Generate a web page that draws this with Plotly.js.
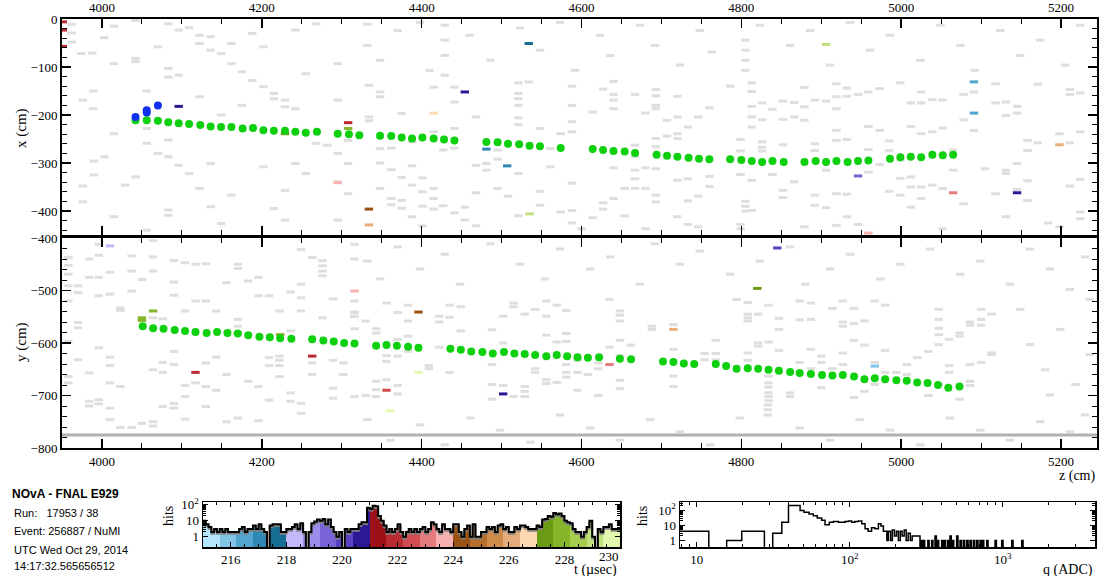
<!DOCTYPE html>
<html><head><meta charset="utf-8">
<script src="https://cdn.plot.ly/plotly-3.0.1.min.js"></script>
<style>html,body{margin:0;padding:0;background:#fff}#plot{width:1101px;height:576px}</style>
</head><body><div id="plot"></div>
<script>
// ---------------- DATA ----------------
// X view (top): reconstructed hits, z (cm) and x (cm)
const trkTopZ = [4042,4056,4070,4083,4096,4109,4123,4136,4149,4162,4176,4189,4202,4215,4229,4242,4255,4269,4295,4309,4322,
  4348,4362,4375,4388,4401,4415,4428,4441,4481,4495,4508,4522,4535,4548,4574,4614,4627,4640,4654,4667,4694,4707,4720,4734,4747,4760,
  4786,4800,4813,4826,4839,4853,4879,4893,4906,4919,4933,4946,4959,4986,4999,5012,5025,5039,5052,5065];
const trkTopX = [-211,-211,-212,-215,-217,-219,-221,-224,-225,-225,-228,-227,-232,-233,-233,-235,-237,-235,-239,-240,-242,
  -243,-244,-247,-249,-247,-249,-251,-253,-256,-257,-260,-261,-264,-265,-269,-271,-273,-275,-276,-279,-283,-285,-287,-289,-291,-292,
  -292,-294,-296,-298,-296,-298,-298,-296,-298,-296,-298,-296,-295,-291,-288,-287,-288,-283,-284,-283];
const vtxTopZ = [4042,4056,4056,4070];
const vtxTopX = [-204,-190,-195,-180];
// Y view (bottom)
const trkBotZ = [4051,4064,4077,4091,4104,4117,4131,4144,4157,4170,4183,4197,4210,4223,4237,4263,4277,4290,4303,4316,
  4343,4356,4369,4383,4396,4436,4449,4462,4476,4489,4503,4516,4529,4542,4556,4569,4582,4595,4608,4622,4648,4662,4702,4715,4728,4741,4768,
  4781,4794,4808,4821,4834,4847,4861,4873,4887,4901,4914,4927,4941,4954,4967,4980,4994,5007,5020,5033,5046,5059,5073];
const trkBotY = [-568,-572,-573,-575,-577,-579,-581,-579,-581,-582,-585,-588,-589,-591,-592,-593,-595,-597,-600,-601,
  -605,-604,-605,-607,-609,-611,-613,-616,-617,-620,-617,-620,-621,-623,-625,-623,-625,-627,-628,-627,-630,-631,-635,-636,-639,-640,-640,
  -644,-649,-648,-649,-651,-653,-655,-657,-659,-661,-662,-661,-664,-669,-667,-669,-671,-672,-675,-676,-680,-685,-683];
// time-coloured isolated hits [z, coord, t(usec)]
const timedTop = [[3951,-6,221.9],[3951,-23,221.9],[3951,-57,221.9],[4096,-182,220.7],[4308,-216,221.9],[4308,-228,227.9],
  [4295,-341,223.7],[4229,-239,227.3],[4454,-152,220.7],[4415,-196,226.7],[4481,-271,217.1],[4507,-306,217.1],[4535,-406,229.1],
  [4334,-396,224.3],[4334,-429,226.1],[5091,-131,216.5],[5091,-196,216.5],[4946,-327,219.5],[5065,-362,223.1],[5145,-362,220.7],
  [5198,-262,226.1],[4959,-446,223.7],[4534,-51,217.7],[4906,-53,229.1]];
const timedBot = [[4010,-415,218.3],[4050,-552,227.9],[4050,-557,227.9],[4064,-539,227.9],[4170,-581,227.9],[4223,-584,227.9],
  [4117,-656,221.9],[4263,-625,221.9],[4316,-501,223.7],[4396,-541,224.3],[4396,-656,229.7],[4356,-690,222.5],[4502,-697,220.7],
  [4635,-641,223.1],[4715,-574,226.1],[4967,-644,215.9],[4845,-419,220.1],[4820,-496,227.3],[4360,-729,229.7]];
// out-of-time (noise) hits [z, coord]
const noiseTop = [[3962,-11],[3962,-29],[3962,-48],[3974,-72],[3988,-71],[3976,-169],[3989,-150],[3989,-187],[3976,-348],[3976,-381],
  [3990,-296],[3990,-325],[4003,-39],[4003,-287],[4015,-15],[4015,-93],[4015,-239],[4015,-412],[4029,-346],[4042,-3],[4042,-82],[4042,-89],
  [4042,-329],[4056,-150],[4056,-228],[4056,-259],[4056,-440],[4070,-58],[4070,-280],[4083,-10],[4083,-103],[4083,-121],[4083,-252],
  [4083,-287],[4083,-398],[4083,-409],[4096,-23],[4096,-117],[4096,-305],[4109,-18],[4109,-322],[4122,-34],[4122,-51],[4122,-162],
  [4122,-353],[4136,-37],[4136,-65],[4136,-301],[4136,-391],[4149,-72],[4149,-200],[4149,-426],[4162,-51],[4162,-93],[4162,-367],
  [4175,-110],[4175,-180],[4188,-30],[4188,-128],[4202,-58],[4202,-141],[4202,-308],[4215,-155],[4215,-166],[4215,-395],[4229,-169],
  [4229,-183],[4229,-357],[4229,-419],[4242,-23],[4242,-187],[4242,-301],[4255,-114],[4255,-322],[4268,-10],[4268,-259],[4282,-263],
  [4295,-93],[4295,-169],[4295,-280],[4295,-339],[4295,-419],[4308,-253],[4308,-301],[4308,-364],
  [4334,-138],[4348,-152],[4348,-162],[4334,-204],[4334,-212],[4348,-270],[4348,-300],[4348,-353],[4362,-269],[4362,-314],[4362,-374],
  [4362,-387],[4375,-197],[4375,-330],[4375,-378],[4375,-394],[4388,-256],[4388,-306],[4388,-346],[4388,-412],[4401,-331],[4401,-360],
  [4401,-390],[4401,-431],[4415,-142],[4415,-235],[4415,-353],[4415,-374],[4415,-396],[4427,-273],[4427,-389],[4441,-142],[4441,-173],
  [4441,-228],[4441,-269],[4441,-404],[4454,-392],[4454,-419],[4468,-204],[4468,-305],[4468,-362],[4468,-431],[4481,-301],[4481,-315],
  [4495,-273],[4495,-292],[4495,-353],[4508,-369],[4521,-133],[4521,-155],[4521,-166],[4521,-180],[4521,-206],[4521,-220],[4521,-322],
  [4521,-410],[4534,-131],[4548,-228],[4548,-359],[4548,-388],[4561,-270],[4561,-308],[4574,-239],[4574,-402],[4588,-140],[4588,-180],
  [4588,-214],[4588,-235],[4588,-342],[4588,-399],[4588,-425],[4600,-437],[4614,-194],[4614,-414],[4627,-146],[4627,-383],[4627,-396],
  [4640,-130],[4640,-157],[4640,-169],[4640,-187],[4640,-310],[4640,-374],[4654,-353],[4654,-410],[4667,-157],[4667,-263],[4667,-287],
  [4667,-315],[4667,-333],[4667,-353],[4680,-196],[4680,-310],[4680,-353],[4680,-437],[4693,-147],[4693,-160],[4693,-180],[4693,-187],
  [4693,-249],[4693,-266],[4693,-312],[4693,-367],[4693,-381],[4707,-211],[4707,-244],[4720,-161],[4720,-204],[4720,-239],[4720,-249],
  [4720,-336],[4720,-412],[4733,-225],[4733,-333],[4733,-379],[4733,-428],[4746,-204],[4746,-369],[4746,-433],[4760,-185],[4760,-328],
  [4760,-349],
  [4786,-140],[4786,-291],[4799,-251],[4799,-275],[4799,-324],[4799,-428],[4799,-437],[4813,-133],[4813,-151],[4813,-182],[4813,-204],
  [4813,-225],[4813,-336],[4813,-399],[4826,-175],[4826,-210],[4826,-256],[4826,-267],[4826,-275],[4839,-188],[4839,-324],[4852,-171],
  [4852,-209],[4852,-262],[4852,-357],[4852,-372],[4866,-174],[4866,-204],[4866,-339],[4879,-143],[4879,-183],[4879,-211],[4879,-433],
  [4892,-169],[4892,-260],[4892,-274],[4892,-367],[4892,-388],[4906,-171],[4906,-315],[4906,-393],[4919,-135],[4919,-162],[4919,-187],
  [4919,-232],[4919,-253],[4919,-364],[4919,-430],[4932,-144],[4932,-161],[4932,-251],[4932,-365],[4932,-412],[4946,-157],[4946,-428],
  [4959,-152],[4959,-224],[4959,-272],[4959,-319],[4973,-145],[4973,-232],[4973,-303],[4985,-254],[4985,-274],[4985,-359],[4999,-133],
  [4999,-294],[4999,-332],[4999,-367],[5012,-175],[5012,-224],[5012,-329],[5012,-350],[5012,-392],[5025,-152],[5025,-175],[5025,-239],
  [5025,-350],[5025,-374],[5039,-168],[5039,-235],[5039,-346],[5052,-169],[5052,-227],[5052,-353],[5052,-437],[5065,-273],[5065,-315],
  [5078,-157],[5078,-210],[5078,-385],[5091,-152],[5091,-232],[5105,-312],[5118,-135],[5118,-175],[5118,-364],[5131,-173],[5131,-201],
  [5131,-315],[5131,-322],[5131,-412],[5145,-182],[5145,-196],[5145,-301],[5145,-355],[5158,-253],[5158,-274],[5158,-337],[5158,-378],
  [5171,-136],[5171,-258],[5184,-425],[5198,-239],[5198,-433],[5211,-147],[5211,-157],[5211,-258],[5211,-348],[5224,-154],[5224,-235],
  [5224,-334],[5224,-402],[5224,-416],
  [4332,-11],[4332,-55],[4348,-86],[4370,-24],[4398,-7],[4410,-107],[4429,-13],[4429,-44],[4429,-76],[4429,-117],[4460,-34],[4486,-86],
  [4523,-19],[4548,-65],[4573,-7],[4592,-107],[4623,-34],[4636,-76],[4673,-13],[4692,-55],[4723,-96],[4748,-24],[4763,-69],[4805,-44],
  [4805,-65],[4805,-86],[4805,-107],[4823,-13],[4861,-55],[4886,-24],[4911,-96],[4936,-7],[4961,-65],[4986,-34],[5024,-86],[5049,-13],
  [5074,-55],[5092,-107],[5124,-24],[5149,-76],[5174,-44],[5205,-96],[5224,-13],[4805,-380],[4805,-390],[4805,-400]];
const noiseBot = [[3958,-437],[3958,-452],[3958,-469],[3958,-491],[3958,-520],[3958,-597],[3958,-664],[3958,-676],[3970,-491],[3970,-504],
  [3970,-561],[3970,-571],[3970,-632],[3984,-440],[3984,-475],[3984,-657],[3984,-711],[3984,-720],[3996,-412],[3996,-433],[3996,-475],
  [3996,-510],[3996,-609],[3996,-708],[3996,-716],[4010,-465],[4010,-507],[4010,-643],[4010,-627],[4010,-676],[4010,-724],[4010,-746],
  [4023,-533],[4023,-538],[4023,-683],[4023,-761],[4037,-434],[4037,-463],[4037,-501],[4037,-761],[4050,-479],[4050,-753],[4064,-405],
  [4064,-436],[4064,-463],[4064,-552],[4064,-651],[4064,-750],[4064,-758],[4076,-554],[4076,-637],[4076,-656],[4076,-721],[4090,-443],
  [4090,-484],[4090,-509],[4090,-616],[4090,-641],[4090,-715],[4090,-724],[4104,-447],[4104,-539],[4104,-681],[4104,-702],[4104,-745],
  [4117,-450],[4117,-520],[4117,-676],[4130,-449],[4130,-520],[4130,-638],[4130,-683],[4130,-721],[4143,-539],[4143,-627],[4143,-690],
  [4156,-485],[4156,-660],[4156,-750],[4170,-450],[4170,-458],[4170,-555],[4170,-568],[4170,-743],[4183,-482],[4183,-673],[4196,-475],
  [4196,-510],[4196,-683],[4196,-748],[4209,-510],[4209,-628],[4209,-643],[4209,-709],[4222,-539],[4222,-625],[4222,-633],[4222,-643],
  [4222,-664],[4236,-503],[4236,-577],[4236,-695],[4236,-711],[4249,-422],[4249,-488],[4249,-514],[4249,-539],[4249,-715],[4249,-734],
  [4263,-437],[4263,-638],[4263,-660],[4276,-443],[4276,-453],[4276,-463],[4276,-472],[4276,-552],[4289,-516],[4289,-633],[4289,-686],
  [4289,-705],[4302,-638],[4302,-660],[4316,-412],[4316,-440],[4316,-542],[4316,-550],[4316,-702],
  [4316,-520],[4316,-541],[4316,-549],[4316,-573],[4330,-558],[4330,-700],[4343,-573],[4343,-581],[4343,-673],[4343,-689],[4343,-702],
  [4356,-524],[4356,-624],[4356,-635],[4356,-670],[4370,-542],[4370,-593],[4370,-625],[4370,-681],[4370,-697],[4383,-528],[4383,-558],
  [4383,-587],[4383,-616],[4409,-643],[4409,-649],[4422,-549],[4422,-560],[4422,-608],[4435,-528],[4435,-551],[4435,-656],[4449,-531],
  [4449,-577],[4488,-575],[4488,-641],[4488,-679],[4488,-707],[4502,-549],[4502,-600],[4502,-681],[4515,-524],[4515,-531],[4515,-702],
  [4529,-545],[4529,-683],[4529,-692],[4529,-702],[4542,-536],[4542,-649],[4542,-656],[4556,-520],[4556,-549],[4556,-585],[4556,-670],
  [4556,-677],[4569,-528],[4569,-598],[4569,-675],[4581,-538],[4581,-582],[4581,-597],[4581,-641],[4581,-656],[4581,-665],[4595,-633],
  [4595,-656],[4595,-690],[4608,-660],[4621,-638],[4621,-649],[4621,-700],[4635,-517],[4635,-608],[4648,-539],[4648,-547],[4648,-558],
  [4648,-595],[4648,-624],[4648,-671],[4648,-687],[4662,-604],[4688,-568],[4688,-574],[4715,-565],[4715,-612],[4715,-663],[4715,-683],
  [4754,-620],[4754,-632],[4768,-595],[4768,-620],[4768,-632],
  [4794,-517],[4808,-523],[4808,-545],[4808,-552],[4808,-558],[4808,-619],[4808,-633],[4821,-545],[4821,-600],[4821,-606],[4834,-528],
  [4834,-598],[4834,-663],[4834,-676],[4834,-684],[4834,-695],[4834,-702],[4834,-710],[4847,-553],[4847,-574],[4847,-614],[4861,-695],
  [4861,-702],[4873,-520],[4873,-556],[4873,-637],[4887,-524],[4887,-555],[4887,-612],[4887,-649],[4900,-625],[4900,-637],[4900,-685],
  [4914,-534],[4914,-649],[4927,-520],[4927,-560],[4927,-568],[4927,-619],[4927,-641],[4941,-534],[4941,-563],[4941,-595],[4941,-704],
  [4954,-558],[4954,-604],[4954,-692],[4967,-520],[4967,-637],[4967,-679],[4980,-528],[4980,-614],[4980,-656],[4994,-656],[5007,-641],
  [5007,-660],[5020,-628],[5034,-616],[5034,-700],[5047,-536],[5047,-555],[5047,-572],[5047,-584],[5047,-603],[5047,-679],[5060,-593],
  [5060,-643],[5060,-656],[5073,-581],[5073,-587],[5073,-707],[5086,-560],[5086,-566],[5086,-641],[5086,-673],[5086,-681],[5100,-536],
  [5100,-555],[5100,-566],[5100,-637],[5113,-545],[5113,-619],[5113,-622],
  [4332,-444],[4348,-478],[4370,-417],[4398,-459],[4429,-431],[4448,-488],[4486,-411],[4523,-450],[4554,-478],[4573,-421],[4611,-459],
  [4636,-436],[4673,-488],[4692,-411],[4723,-450],[4748,-425],[4786,-469],[4823,-444],[4861,-417],[4880,-488],[4911,-459],[4936,-431],
  [4974,-478],[4999,-450],[5036,-421],[5074,-469],[5099,-444],[5136,-488],[5161,-421],[5186,-459],[5211,-498],[5230,-436],
  [4332,-746],[4361,-785],[4398,-756],[4429,-794],[4461,-743],[4498,-766],[4536,-789],[4573,-737],[4611,-762],[4648,-785],[4686,-746],
  [4723,-769],[4761,-794],[4798,-743],[4833,-718],[4833,-727],[4833,-737],[4873,-762],[4911,-785],[4948,-746],[4986,-766],
  [5024,-794],[5061,-743],[5099,-766],[5136,-785],[5174,-750],[5211,-769],[5230,-737],
  [5149,-536],[5161,-603],[5180,-651],[5199,-574],[5218,-679],[5236,-517],[5236,-622],[5186,-699]];
// detector edge line (y view)
const edgeY = -775;
// time histogram: 0.1 usec bins from 215 to 230
const tStart = 215, tBin = 0.1;
const tCounts = [10,6,4,2,3,2,3,2,3,2, 2,2,2,3,4,2,3,3,5,3, 6,3,2,0,5,6,6,6,2,2, 3,3,4,6,3,7,2,0,2,7,
  9,12,10,13,6,12,4,2,1,2, 0,3,2,3,3,3,6,8,8,65, 55,85,80,20,10,5,2,3,2,3, 6,2,1,2,3,2,3,2,3,4,
  2,3,8,6,3,2,6,3,3,2, 6,6,2,1,3,5,1,6,1,1, 2,2,4,3,4,2,5,6,3,4, 2,2,4,3,5,5,4,3,3,3,
  5,4,12,13,20,18,30,25,28,20, 10,8,7,3,2,2,1,2,4,10, 1,0,3,2,4,4,6,3,3,3];
const tBandWidth = 0.6;
const tTickLabels = [216,218,220,222,224,226,228,230];
const tPalette = ['#b3e5fc','#81c4e6','#52a5cf','#2f87b3','#156d94',
  '#c4b8fa','#9c8ceb','#7a63d6','#5b40c2','#2a1896',
  '#9c1016','#b92b31','#d24c52','#e57b7c','#f8b1b1',
  '#9a5215','#b66f2c','#ce8b4a','#e5ad7c','#fdd8b2',
  '#6a9b12','#87b52a','#a5cd4e','#c1e17d','#e2f9ad'];
// charge histogram (ADC)
const qEdges = [7.78,12.0,15.7,19.7,27.7,31.4,36.0,39.8,47.4,50.3,54.2,57.8,61.4,65.6,69.0,73.6,78.2,84.3,93.2,98,103,108,114,120,126,
  132,139,146,154,160,166,175,179,185,190,196,202,208,214,220,227,234,241,249,256,260,288];
const qCounts = [4,0,1,4,0,3,16,215,100,74,57,44,31,22,11,16,18,16,18,20,16,18,20,13,6,4,7,6,13,9,4,1,4,1,5,2,4,1,4,2,5,1,3,1,2,2];
const qSpikeAt = [291,303,324,343,361,374,399,413,435,452,469,500,526,553,582,611,643,676,711,737,786,891,985,1145,1331];
const qSpikeN  = [1,1,1,1,2,1,1,1,1,2,1,2,1,1,1,1,1,1,1,1,1,1,1,1,1];
const qSpikeRel = 1.02, qMax = 4000;

// ---------------- BUILD ----------------
const W = 1101, H = 576;
const PX = p => p / W, PY = p => 1 - p / H;
const serif = 'Liberation Serif, Times New Roman, serif';
const sans = 'Liberation Sans, Arial, sans-serif';
const bandColor = t => tPalette[Math.max(0, Math.min(tPalette.length - 1, Math.floor((t - tStart) / tBandWidth + 1e-9)))];

const traces = [];
const dash = (pts, xa, ya, colorFn, size, w) => ({
  type: 'scatter', mode: 'markers', xaxis: xa, yaxis: ya, hoverinfo: 'skip',
  x: pts.map(p => p[0]), y: pts.map(p => p[1]),
  marker: {symbol: 'line-ew', size: size, color: 'rgba(0,0,0,0)', line: {width: w, color: colorFn ? pts.map(colorFn) : '#dedede'}}
});
traces.push(dash(noiseTop, 'x', 'y', null, 6, 3));
traces.push(dash(noiseBot, 'x2', 'y2', null, 6, 3));
traces.push(dash(timedTop, 'x', 'y', p => bandColor(p[2]), 6, 3));
traces.push(dash(timedBot, 'x2', 'y2', p => bandColor(p[2]), 6, 3));
const dots = (xs, ys, xa, ya, c) => ({type: 'scatter', mode: 'markers', xaxis: xa, yaxis: ya, x: xs, y: ys, hoverinfo: 'skip',
  marker: {symbol: 'circle', size: 8, color: c, line: {width: 0}}});
traces.push(dots(trkTopZ, trkTopX, 'x', 'y', '#0fd00f'));
traces.push(dots(vtxTopZ, vtxTopX, 'x', 'y', '#1030f0'));
traces.push(dots(trkBotZ, trkBotY, 'x2', 'y2', '#0fd00f'));

// time histogram bars + outline
const tCent = tCounts.map((c, i) => tStart + (i + 0.5) * tBin);
traces.push({type: 'bar', xaxis: 'x3', yaxis: 'y3', x: tCent, y: tCounts.map(c => c > 0 ? c : null), width: tBin * 1.02,
  marker: {color: tCent.map(bandColor), line: {width: 0}}, hoverinfo: 'skip'});
const tEdgeX = tCounts.map((c, i) => tStart + i * tBin).concat([tStart + tCounts.length * tBin]);
const tFloor = 0.05;
const tStepY = tCounts.concat([tCounts[tCounts.length - 1]]).map(c => c > 0 ? c : tFloor);
traces.push({type: 'scatter', mode: 'lines', xaxis: 'x3', yaxis: 'y3', x: tEdgeX, y: tStepY.map(v => v * 0.78),
  line: {shape: 'hv', color: '#808080', width: 2}, hoverinfo: 'skip'});
traces.push({type: 'scatter', mode: 'lines', xaxis: 'x3', yaxis: 'y3', x: tEdgeX, y: tStepY,
  line: {shape: 'hv', color: '#000', width: 2}, hoverinfo: 'skip'});

// charge histogram outline
const qx = qEdges.slice(), qy = qCounts.slice();
qSpikeAt.forEach((s, i) => { qy.push(0); qx.push(s); qy.push(qSpikeN[i]); qx.push(s * qSpikeRel); });
qy.push(0); qx.push(qMax);
const qFloor = 0.05;
const qStepY = qy.concat([0]).map(c => c > 0 ? c : qFloor);
traces.push({type: 'scatter', mode: 'lines', xaxis: 'x4', yaxis: 'y4', x: qx, y: qStepY,
  line: {shape: 'hv', color: '#000', width: 1.5}, hoverinfo: 'skip'});

// ---------------- LAYOUT ----------------
const tickF = {family: serif, size: 13, color: '#000'};
const frame = {showline: true, linecolor: '#000', mirror: 'allticks', ticks: 'inside', tickcolor: '#000',
  showgrid: false, zeroline: false, fixedrange: true};
const xMain = {range: [3950, 5245], tick0: 0, dtick: 200, ticklen: 9, tickwidth: 1.5, linewidth: 2,
  minor: {ticks: 'inside', dtick: 50, ticklen: 5, tickcolor: '#000', tickwidth: 1}, tickfont: tickF};
const yMain = {dtick: 100, tick0: 0, ticklen: 9, tickwidth: 1.5, linewidth: 2,
  minor: {ticks: 'inside', dtick: 20, ticklen: 5, tickcolor: '#000', tickwidth: 1}, tickfont: tickF};
const dom = {xMain: [PX(62), PX(1097)], yTop: [PY(235), PY(19)], yBot: [PY(448), PY(238)],
  x3: [PX(203), PX(620)], x4: [PX(680), PX(1095)], yH: [PY(547), PY(502)]};
const logMinor = [];
[1, 10, 100, 1000].forEach(d => { for (let k = 2; k <= 9; k++) logMinor.push(k * d); });
const tRange = [215, 230];
const layout = {
  width: W, height: H, margin: {l: 0, r: 0, t: 0, b: 0}, paper_bgcolor: '#fff', plot_bgcolor: '#fff', showlegend: false,
  bargap: 0,
  xaxis: Object.assign({}, frame, xMain, {domain: dom.xMain, anchor: 'y', side: 'top'}),
  yaxis: Object.assign({}, frame, yMain, {domain: dom.yTop, anchor: 'x', range: [-450, 0]}),
  xaxis2: Object.assign({}, frame, xMain, {domain: dom.xMain, anchor: 'y2', side: 'bottom'}),
  yaxis2: Object.assign({}, frame, yMain, {domain: dom.yBot, anchor: 'x2', range: [-800, -400]}),
  xaxis3: Object.assign({}, frame, {domain: dom.x3, anchor: 'y3', range: tRange, ticklen: 5,
    tickvals: tTickLabels, ticktext: tTickLabels.map(v => v < tRange[1] ? String(v) : ''),
    linewidth: 1.5, tickfont: tickF, minor: {ticks: 'inside', dtick: 0.5, ticklen: 3, tickcolor: '#000'}}),
  yaxis3: Object.assign({}, frame, {domain: dom.yH, anchor: 'x3', type: 'log', range: [-0.64, 2.17], ticklen: 5, linewidth: 1.5,
    tickvals: [1, 10, 100], ticktext: ['1', '10', '10<sup>2</sup>'], tickfont: tickF,
    minor: {ticks: 'inside', tickvals: logMinor, ticklen: 3, tickcolor: '#000'}}),
  xaxis4: Object.assign({}, frame, {domain: dom.x4, anchor: 'y4', type: 'log', range: [0.891, 3.603], ticklen: 5, linewidth: 1.5,
    tickvals: [10, 100, 1000], ticktext: ['10', '10<sup>2</sup>', '10<sup>3</sup>'], tickfont: tickF,
    minor: {ticks: 'inside', tickvals: logMinor, ticklen: 3, tickcolor: '#000'}}),
  yaxis4: Object.assign({}, frame, {domain: dom.yH, anchor: 'x4', type: 'log', range: [-0.44, 2.56], ticklen: 5, linewidth: 1.5,
    tickvals: [1, 10, 100], ticktext: ['1', '10', '10<sup>2</sup>'], tickfont: tickF,
    minor: {ticks: 'inside', tickvals: logMinor, ticklen: 3, tickcolor: '#000'}}),
  shapes: [{type: 'line', xref: 'x2 domain', yref: 'y2', x0: 0, x1: 1, y0: edgeY, y1: edgeY,
    line: {color: '#b0b0b0', width: 3}, layer: 'above'}],
  annotations: []
};
const ann = (text, px, py, opt) => layout.annotations.push(Object.assign({text: text, xref: 'paper', yref: 'paper',
  x: PX(px), y: PY(py), showarrow: false, xanchor: 'center', yanchor: 'middle', font: {family: serif, size: 15, color: '#000'}}, opt || {}));
ann('x (cm)', 21, 128, {textangle: -90});
ann('y (cm)', 21, 342, {textangle: -90});
ann('z (cm)', 1097, 476, {xanchor: 'right', font: {family: serif, size: 14, color: '#000'}});
ann('hits', 168, 516, {textangle: -90, font: {family: serif, size: 14, color: '#000'}});
ann('hits', 642, 516, {textangle: -90, font: {family: serif, size: 14, color: '#000'}});
ann(String(tTickLabels[tTickLabels.length - 1]), 621, 556, {xanchor: 'right', font: tickF});
ann('t (\u00b5sec)', 619, 570, {xanchor: 'right', font: {family: serif, size: 14, color: '#000'}});
ann('q (ADC)', 1095, 570, {xanchor: 'right', font: {family: serif, size: 14, color: '#000'}});
const sansF = {family: sans, size: 11, color: '#000'};
ann('<b>NOvA - FNAL E929</b>', 10, 494, {xanchor: 'left', font: {family: sans, size: 12, color: '#000'}});
ann('Run:   17953 / 38', 12, 513, {xanchor: 'left', font: sansF});
ann('Event: 256887 / NuMI', 12, 531, {xanchor: 'left', font: sansF});
ann('UTC Wed Oct 29, 2014', 12, 550, {xanchor: 'left', font: sansF});
ann('14:17:32.565656512', 12, 566, {xanchor: 'left', font: sansF});

Plotly.newPlot('plot', traces, layout, {staticPlot: true, displayModeBar: false});
</script></body></html>
